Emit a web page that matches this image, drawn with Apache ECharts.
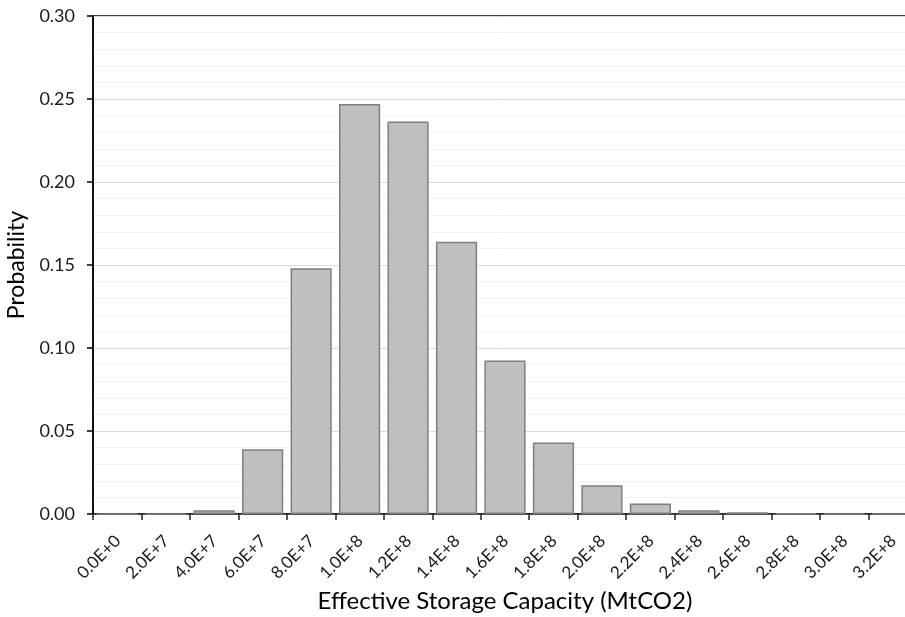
<!DOCTYPE html>
<html lang="en">
<head>
<meta charset="UTF-8">
<title>Effective Storage Capacity</title>
<script src="https://cdn.jsdelivr.net/npm/echarts@6/dist/echarts.min.js"></script>
<style>
  html, body { margin: 0; padding: 0; background: #fff; }
  #chart { width: 905px; height: 617px; }
</style>
</head>
<body>
<div id="chart"></div>
<script>
// histogram bins, width 2E+7, starting at 0
var binStarts = ['0.0E+0','2.0E+7','4.0E+7','6.0E+7','8.0E+7','1.0E+8','1.2E+8','1.4E+8','1.6E+8',
                 '1.8E+8','2.0E+8','2.2E+8','2.4E+8','2.6E+8','2.8E+8','3.0E+8','3.2E+8'];
var probability = [0, 0, 0.0023, 0.039, 0.148, 0.247, 0.2365, 0.164, 0.0925,
                   0.043, 0.0173, 0.0064, 0.0022, 0.001, 0.0003, 0.0001, 0];
var tickLabels = ['0.0E+0','2.0E+7','4.0E+7','6.0E+7','8.0E+7','1.0E+8','1.2E+8','1.4E+8','1.6E+8',
                  '1.8E+8','2.0E+8','2.2E+8','2.4E+8','2.6E+8','2.8E+8','3.0E+8','3.2E+8'];
var binWidth = 2e7;

var chart = echarts.init(document.getElementById('chart'));
var font = 'Lato, "Open Sans", sans-serif';

var option = {
  animation: false,
  grid: {
    left: 93, right: -12, top: 16, bottom: 103,
    outerBoundsMode: 'none',
    containLabel: false,
    show: true, borderColor: '#000', borderWidth: 1.5
  },
  xAxis: [
    {
      type: 'value',
      min: 0,
      max: binWidth * binStarts.length,
      interval: binWidth,
      name: 'Effective Storage Capacity (MtCO2)',
      nameLocation: 'middle',
      nameGap: 73,
      nameTextStyle: { fontFamily: font, fontSize: 24, color: '#000' },
      axisLine: { show: true, lineStyle: { color: '#262626', width: 1.5 } },
      axisTick: { show: true, length: 6, lineStyle: { color: '#262626', width: 1.5 } },
      splitLine: { show: false },
      axisLabel: {
        rotate: 45,
        align: 'center',
        verticalAlign: 'top',
        margin: 37,
        fontFamily: font,
        fontSize: 17,
        color: '#1a1a1a',
        showMaxLabel: false,
        formatter: function (v) {
          var i = Math.round(v / binWidth);
          return tickLabels[i] || '';
        }
      }
    },
    {
      type: 'category',
      data: binStarts,
      show: false,
      boundaryGap: true
    }
  ],
  yAxis: {
    type: 'value',
    min: 0,
    max: 0.3,
    interval: 0.05,
    name: 'Probability',
    nameLocation: 'middle',
    nameGap: 58,
    nameTextStyle: { fontFamily: font, fontSize: 23, color: '#000' },
    axisLine: { show: true, lineStyle: { color: '#000', width: 1.5 } },
    axisTick: { show: true, length: 6, lineStyle: { color: '#000', width: 1.5 } },
    axisLabel: {
      margin: 18,
      fontFamily: font,
      fontSize: 18,
      color: '#1a1a1a',
      formatter: function (v) { return v.toFixed(2); }
    },
    splitLine: { show: true, lineStyle: { color: '#d9d9d9', width: 1 } },
    minorTick: { show: false, splitNumber: 5 },
    minorSplitLine: { show: true, lineStyle: { color: '#f2f2f2', width: 1 } }
  },
  series: [
    {
      type: 'bar',
      xAxisIndex: 1,
      data: probability,
      barCategoryGap: '15%',
      itemStyle: { color: '#bfbfbf', borderColor: '#7f7f7f', borderWidth: 1.5 }
    }
  ]
};
chart.setOption(option);
</script>
</body>
</html>
